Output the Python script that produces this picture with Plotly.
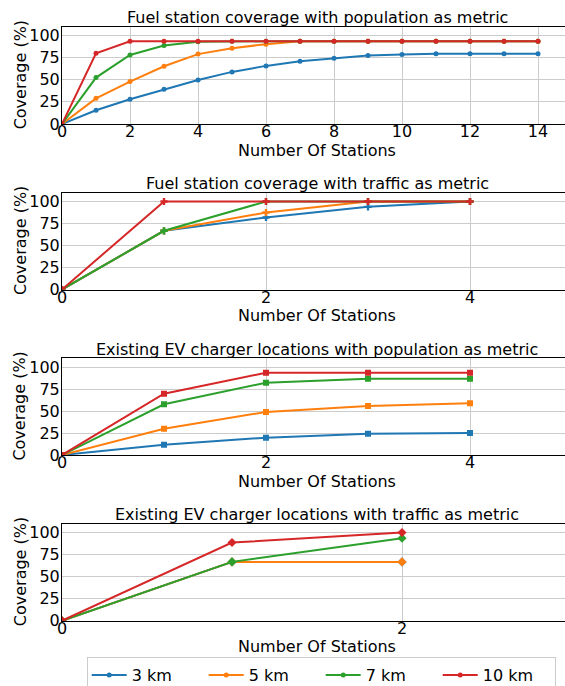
import plotly.graph_objects as go

# Series labels and colours (tab10)
series_names = ["3 km", "5 km", "7 km", "10 km"]
series_colors = ["#1f77b4", "#ff7f0e", "#2ca02c", "#d62728"]

# Panel 1: fuel stations, population coverage
fuel_pop_x = list(range(15))
fuel_pop_3km = [0, 15.5, 28, 39.3, 49.8, 58.9, 65.7, 71.0, 74.4, 77.4, 78.5, 79.4, 79.4, 79.4, 79.4]
fuel_pop_5km = [0, 29, 48, 65.3, 79, 85.7, 90.2, 93.5, 93.5, 93.5, 93.5, 93.5, 93.5, 93.5, 93.5]
fuel_pop_7km = [0, 52.5, 78, 88.7, 93, 93.5, 93.5, 93.5, 93.5, 93.5, 93.5, 93.5, 93.5, 93.5, 93.5]
fuel_pop_10km = [0, 80, 93.5, 93.5, 93.5, 93.5, 93.5, 93.5, 93.5, 93.5, 93.5, 93.5, 93.5, 93.5, 93.5]

# Panel 2: fuel stations, traffic coverage
fuel_traffic_x = [0, 1, 2, 3, 4]
fuel_traffic_3km = [0, 66.7, 81.8, 93.9, 100]
fuel_traffic_5km = [0, 66.7, 87.5, 100, 100]
fuel_traffic_7km = [0, 66.7, 100, 100, 100]
fuel_traffic_10km = [0, 100, 100, 100, 100]

# Panel 3: existing EV chargers, population coverage
ev_pop_x = [0, 1, 2, 3, 4]
ev_pop_3km = [0, 11.7, 19.7, 24.2, 25]
ev_pop_5km = [0, 29.9, 48.9, 55.7, 58.7]
ev_pop_7km = [0, 57.6, 82.2, 86.7, 86.7]
ev_pop_10km = [0, 69.7, 93.5, 93.5, 93.5]

# Panel 4: existing EV chargers, traffic coverage
ev_traffic_x = [0, 1, 2]
ev_traffic_3km = [0, 66.7, 66.7]
ev_traffic_5km = [0, 66.7, 66.7]
ev_traffic_7km = [0, 66.7, 93.6]
ev_traffic_10km = [0, 88.6, 100]

panel_titles = [
    "Fuel station coverage with population as metric",
    "Fuel station coverage with traffic as metric",
    "Existing EV charger locations with population as metric",
    "Existing EV charger locations with traffic as metric",
]
panel_x = [fuel_pop_x, fuel_traffic_x, ev_pop_x, ev_traffic_x]
panel_series = [
    [fuel_pop_3km, fuel_pop_5km, fuel_pop_7km, fuel_pop_10km],
    [fuel_traffic_3km, fuel_traffic_5km, fuel_traffic_7km, fuel_traffic_10km],
    [ev_pop_3km, ev_pop_5km, ev_pop_7km, ev_pop_10km],
    [ev_traffic_3km, ev_traffic_5km, ev_traffic_7km, ev_traffic_10km],
]
panel_xmax = [15, 5, 5, 3]
panel_xticks = [list(range(0, 15, 2)), [0, 2, 4], [0, 2, 4], [0, 2]]
panel_symbols = ["circle", "cross", "square", "diamond"]
panel_msize = [5, 6, 6, 7]
y_ticks = [0, 25, 50, 75, 100]

W, H = 565, 686
LEFT = 62
AX_W = 510          # full axes width; the right edge runs past the canvas
VIS_W = W - LEFT    # visible part of the plotting area
panel_top = [26.7, 192.7, 358.2, 523.7]
panel_bottom = [124.0, 289.5, 455.0, 620.7]

FONT = "DejaVu Sans"
fig = go.Figure()
annotations = []

for i in range(4):
    ax = "" if i == 0 else str(i + 1)
    for j in range(4):
        fig.add_trace(go.Scatter(
            x=panel_x[i], y=panel_series[i][j],
            mode="lines+markers",
            name=series_names[j],
            legendgroup=series_names[j],
            showlegend=(i == 0),
            line=dict(color=series_colors[j], width=2),
            marker=dict(symbol=panel_symbols[i], size=panel_msize[i], color=series_colors[j]),
            xaxis="x" + ax, yaxis="y" + ax,
        ))
    dom = [1 - panel_bottom[i] / H, 1 - panel_top[i] / H]
    xr = [0, panel_xmax[i] * VIS_W / AX_W]
    common = dict(
        showgrid=True, gridcolor="#cccccc", gridwidth=1,
        zeroline=False, showline=True, linecolor="#000000", linewidth=1,
        ticks="", tickfont=dict(family=FONT, size=16, color="#000000"),
        automargin=False,
    )
    fig.layout["xaxis" + ax] = dict(
        common, domain=[0, 1], range=xr, tickvals=panel_xticks[i],
        anchor="y" + ax, mirror=True, ticklabelstandoff=-7,
    )
    fig.layout["yaxis" + ax] = dict(
        common, domain=dom, range=[0, 110], tickvals=y_ticks,
        anchor="x" + ax, mirror=False, ticklabelstandoff=-2,
    )
    cx = (AX_W / 2) / VIS_W
    # panel title
    annotations.append(dict(
        text=panel_titles[i], xref="paper", yref="paper",
        x=cx, y=1 - (panel_top[i] - 9) / H, xanchor="center", yanchor="middle",
        showarrow=False, font=dict(family=FONT, size=16, color="#000000"),
    ))
    # x-axis title
    annotations.append(dict(
        text="Number Of Stations", xref="paper", yref="paper",
        x=cx, y=1 - (panel_bottom[i] + 26) / H, xanchor="center", yanchor="middle",
        showarrow=False, font=dict(family=FONT, size=16, color="#000000"),
    ))
    # y-axis title
    annotations.append(dict(
        text="Coverage (%)", xref="paper", yref="paper", textangle=-90,
        x=(20 - LEFT) / VIS_W, y=1 - (panel_top[i] + panel_bottom[i]) / 2 / H,
        xanchor="center", yanchor="middle",
        showarrow=False, font=dict(family=FONT, size=16, color="#000000"),
    ))

fig.update_layout(
    width=W, height=H,
    margin=dict(l=LEFT, r=0, t=0, b=0, autoexpand=False),
    paper_bgcolor="white", plot_bgcolor="white",
    font=dict(family=FONT, size=16, color="#000000"),
    annotations=annotations,
    showlegend=True,
    legend=dict(
        orientation="h", x=(86.7 - LEFT) / VIS_W, y=1 - 657 / H,
        xanchor="left", yanchor="top",
        bgcolor="white", bordercolor="#cccccc", borderwidth=1,
        font=dict(family=FONT, size=16, color="#000000"),
        itemwidth=35,
        entrywidth=67, entrywidthmode="pixels",
    ),
)

fig.write_html("out.html")
